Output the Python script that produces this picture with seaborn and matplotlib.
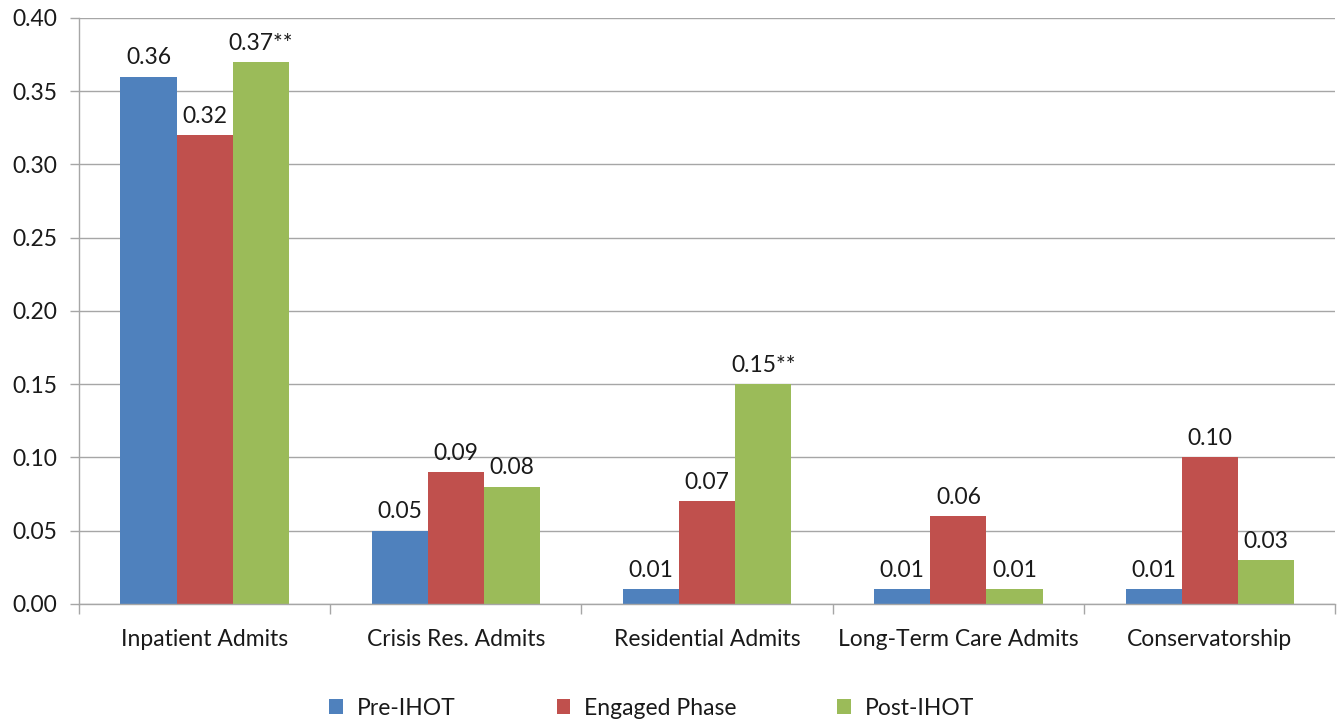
import matplotlib
matplotlib.use("Agg")
import matplotlib.pyplot as plt
import seaborn as sns
import pandas as pd
from matplotlib.ticker import FixedLocator

categories = ["Inpatient Admits", "Crisis Res. Admits", "Residential Admits",
              "Long-Term Care Admits", "Conservatorship"]
phases = ["Pre-IHOT", "Engaged Phase", "Post-IHOT"]
pre_ihot = [0.36, 0.05, 0.01, 0.01, 0.01]
engaged = [0.32, 0.09, 0.07, 0.06, 0.10]
post_ihot = [0.37, 0.08, 0.15, 0.01, 0.03]
post_marks = ["**", "", "**", "", ""]
colors = ["#4F81BD", "#C0504D", "#9BBB59"]
yticks = [0.00, 0.05, 0.10, 0.15, 0.20, 0.25, 0.30, 0.35, 0.40]

series = {"Pre-IHOT": pre_ihot, "Engaged Phase": engaged, "Post-IHOT": post_ihot}
df = pd.DataFrame([
    {"category": c, "phase": p, "value": v}
    for p in phases for c, v in zip(categories, series[p])
])

sns.set_style("white")
plt.rcParams["font.family"] = ["Lato", "DejaVu Sans"]
FS = 16.5
TXT = "#1a1a1a"

fig = plt.figure(figsize=(13.38, 7.19), dpi=100)
ax = fig.add_axes([0.059, 0.160, 0.939, 0.815])

sns.barplot(data=df, x="category", y="value", hue="phase", order=categories,
            hue_order=phases, palette=colors, width=0.67, saturation=1,
            errorbar=None, ax=ax, linewidth=0, edgecolor="none")

ax.set_ylim(0, 0.40)
ax.set_xlim(-0.5, len(categories) - 0.5)
ax.set_yticks(yticks)
ax.set_yticklabels([f"{t:.2f}" for t in yticks])
ax.yaxis.grid(True, color="#A6A6A6", linewidth=1.0)
ax.set_axisbelow(True)
ax.set_xlabel("")
ax.set_ylabel("")

for side in ["top", "right"]:
    ax.spines[side].set_visible(False)
for side in ["left", "bottom"]:
    ax.spines[side].set_color("#A6A6A6")
    ax.spines[side].set_linewidth(1.0)

ax.tick_params(axis="y", length=6.5, width=1.0, color="#A6A6A6", pad=9,
               labelsize=FS, labelcolor=TXT, left=True)
ax.tick_params(axis="x", which="major", length=0, pad=18,
               labelsize=FS, labelcolor=TXT)
ax.xaxis.set_minor_locator(FixedLocator([i - 0.5 for i in range(len(categories) + 1)]))
ax.tick_params(axis="x", which="minor", length=7, width=1.0, color="#A6A6A6",
               bottom=True)

label_sets = [
    [f"{v:.2f}" for v in pre_ihot],
    [f"{v:.2f}" for v in engaged],
    [f"{v:.2f}{m}" for v, m in zip(post_ihot, post_marks)],
]
for container, labels in zip(ax.containers, label_sets):
    ax.bar_label(container, labels=labels, padding=6, fontsize=FS, color=TXT)

leg = ax.legend(loc="upper center", bbox_to_anchor=(0.456, -0.125), ncol=3,
                frameon=False, fontsize=FS, handlelength=0.6, handleheight=0.6,
                handletextpad=0.6, columnspacing=4.4, labelcolor=TXT)

fig.savefig("out.png", dpi=100)
